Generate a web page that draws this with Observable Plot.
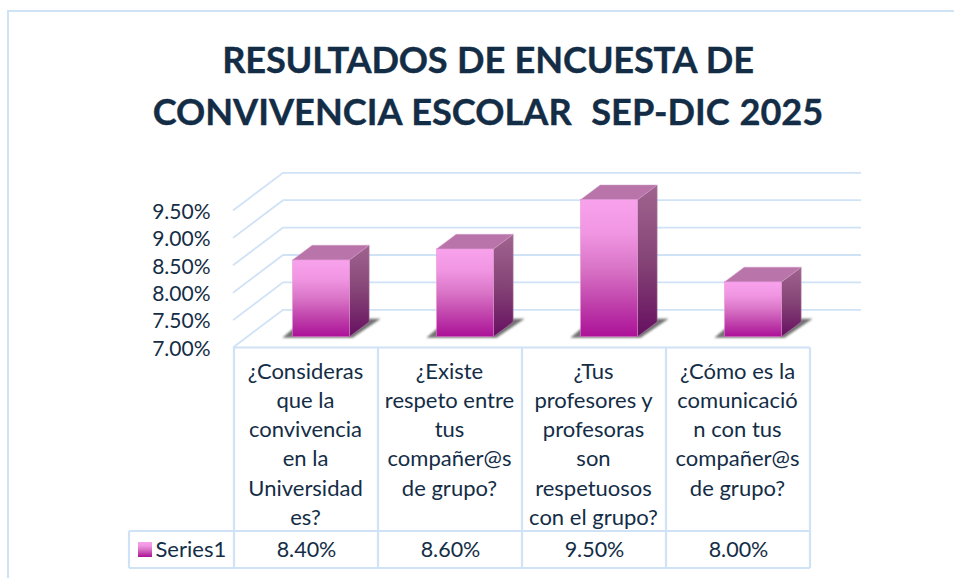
<!DOCTYPE html>
<html><head><meta charset="utf-8">
<script src="https://cdn.jsdelivr.net/npm/d3@7"></script>
<script src="https://cdn.jsdelivr.net/npm/@observablehq/plot@0.6"></script>
<style>
html,body{margin:0;padding:0;background:#fff;overflow:hidden;width:954px;height:578px}
#frame{position:absolute;left:7px;top:10px;width:960px;height:600px;border:2px solid #cfe2f6;box-sizing:border-box;pointer-events:none}
#title{height:150px;box-sizing:border-box;padding-top:33px;width:976px;text-align:center;font:700 36.2px/52px Lato,sans-serif;word-spacing:1px;-webkit-text-stroke:0.35px #142d46;color:#142d46;white-space:pre}
#title span{letter-spacing:-0.2px}
#chart svg{display:block}
</style></head><body>
<div id="frame"></div>
<div id="title"><span>RESULTADOS DE ENCUESTA DE</span>
CONVIVENCIA ESCOLAR  SEP-DIC 2025</div>
<div id="chart"></div>
<script>
const categories = [
  "¿Consideras\nque la\nconvivencia\nen la\nUniversidad\nes?",
  "¿Existe\nrespeto entre\ntus\ncompañer@s\nde grupo?",
  "¿Tus\nprofesores y\nprofesoras\nson\nrespetuosos\ncon el grupo?",
  "¿Cómo es la\ncomunicació\nn con tus\ncompañer@s\nde grupo?"
];
const values = [0.084, 0.086, 0.095, 0.08];
const yTicks = [0.07, 0.075, 0.08, 0.085, 0.09, 0.095];
const seriesName = "Series1";
const rows = categories.map((c, i) => ({c, v: values[i]}));

const ink = "#142d46", line = "#cfe2f6", font = "Lato, sans-serif";
const wallDx = 50, wallDy = -37.7;      // depth of the 3D box
const barDx = 15, barDy = -10.8;        // bars stand mid-depth
const sideDx = 19.7, sideDy = -14.7;    // depth of a bar
const barInset = 43.5;

const defs = () => {
  const g = d3.create("svg:defs");
  const lg = (id, stops) => {
    const l = g.append("linearGradient").attr("id", id).attr("x1",0).attr("x2",0).attr("y1",0).attr("y2",1);
    stops.forEach(([o,c]) => l.append("stop").attr("offset",o).attr("stop-color",c));
  };
  lg("front", [[0,"#f9a2ec"],[0.25,"#f095e2"],[0.5,"#d974c6"],[0.75,"#c043ac"],[1,"#ac1098"]]);
  lg("side", [[0,"#a0648f"],[0.5,"#854476"],[1,"#660f60"]]);
  const f = g.append("filter").attr("id","soft").attr("x","-20%").attr("y","-40%").attr("width","140%").attr("height","180%");
  f.append("feGaussianBlur").attr("stdDeviation",1);
  return g.node();
};

const walls = (index, {x, y}) => {
  const g = d3.create("svg:g").attr("fill","none").attr("stroke",line).attr("stroke-width",1.8);
  const x0 = x.range()[0], x1 = x.range()[1];
  for (const t of yTicks) {
    g.append("path").attr("d", d3.line()([[x0, y(t)],[x0+wallDx, y(t)+wallDy],[x1+wallDx, y(t)+wallDy]]));
  }
  return g.node();
};

const table = (index, {x, y}) => {
  const g = d3.create("svg:g").attr("fill","none").attr("stroke",line).attr("stroke-width",2.2);
  const top = y(yTicks[0]), bw = x.bandwidth();
  const edges = categories.map(c => x(c)).concat(x(categories[3]) + bw);
  const rowTop = top + 183.5, rowBot = top + 220.5;
  const xLeft = edges[0] - 105;
  g.append("path").attr("d", d3.line()([[edges[0],top],[edges[4],top]]));
  edges.forEach(e => g.append("path").attr("d", d3.line()([[e,top],[e,rowBot]])));
  g.append("path").attr("d", d3.line()([[xLeft,rowTop],[edges[4],rowTop]]));
  g.append("path").attr("d", d3.line()([[xLeft,rowBot],[edges[4],rowBot]]));
  g.append("path").attr("d", d3.line()([[xLeft,rowTop],[xLeft,rowBot]]));
  g.append("rect").attr("x", xLeft+9).attr("y", rowTop+11).attr("width",14).attr("height",15).attr("fill","url(#front)").attr("stroke","none");
  return g.node();
};

const bars3d = (index, {x, y}) => {
  const g = d3.create("svg:g");
  for (const d of rows) {
    const l = x(d.c) + barInset + barDx, r = x(d.c) + x.bandwidth() - barInset + barDx;
    const t = y(d.v) + barDy, b = y(yTicks[0]) + barDy;
    g.append("path").attr("filter","url(#soft)").attr("fill","#444").attr("fill-opacity",0.75)
      .attr("d", d3.line()([[l-10,b+1],[r+3,b+1],[r+31,b-18],[l+12,b-18]])+"Z");
    g.append("path").attr("fill","url(#side)").attr("stroke","#b98ab0").attr("stroke-width",0.5)
      .attr("d", d3.line()([[r,t],[r+sideDx,t+sideDy],[r+sideDx,b+sideDy],[r,b]])+"Z");
    g.append("path").attr("fill","#b975aa").attr("stroke","#cf9cc6").attr("stroke-width",0.5)
      .attr("d", d3.line()([[l,t],[l+sideDx,t+sideDy],[r+sideDx,t+sideDy],[r,t]])+"Z");
  }
  return g.node();
};

const H = 428, top0 = 150;
const chart = Plot.plot({
  width: 954, height: H,
  marginLeft: 233, marginRight: 143, marginTop: 210.5 - top0, marginBottom: 578 - 347.5,
  style: {background: "transparent", overflow: "visible", fontFamily: font},
  x: {type: "band", domain: categories, padding: 0, axis: null},
  y: {domain: [0.07, 0.095]},
  marks: [
    defs,
    walls,
    table,
    bars3d,
    Plot.barY(rows, {x: "c", y1: () => yTicks[0], y2: "v", fill: "url(#front)", dx: barDx, dy: barDy,
      insetLeft: barInset, insetRight: barInset, stroke: "#e58fd6", strokeWidth: 0.5}),
    Plot.axisY({ticks: yTicks, tickSize: 0, tickPadding: 23, tickFormat: d3.format(".2%"), label: null,
      fontSize: 21, fill: ink, dy: 1, marginLeft: 233}),
    Plot.text(rows, {x: "c", frameAnchor: "bottom", text: "c", lineAnchor: "top", dy: 10, dx: -1,
      fontSize: 22, lineHeight: 1.327, fill: ink, textAnchor: "middle"}),
    Plot.text(rows, {x: "c", frameAnchor: "bottom", text: d => d3.format(".2%")(d.v), dy: 209, fontSize: 21.5, fill: ink}),
    Plot.text([seriesName], {frameAnchor: "bottom-left", text: d => d, dx: -78, dy: 209, fontSize: 22, fill: ink, textAnchor: "start"})
  ]
});
document.getElementById("chart").append(chart);
</script></body></html>
